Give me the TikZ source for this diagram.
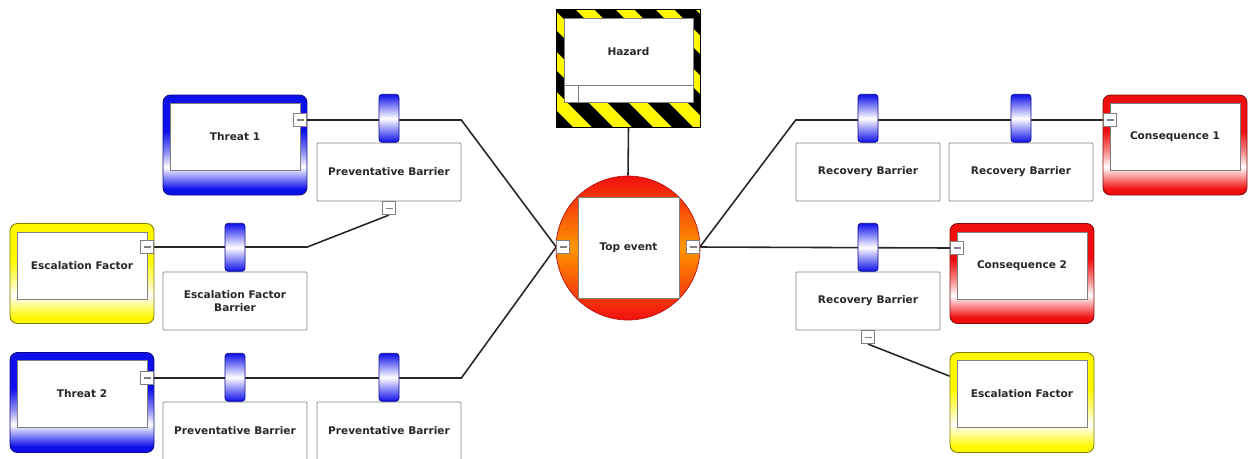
\documentclass[tikz,border=0pt]{standalone}
\usepackage{fontspec}
\setmainfont{DejaVu Sans}
\usetikzlibrary{positioning}

\definecolor{bowblue}{RGB}{15,15,235}
\definecolor{bowred}{RGB}{240,15,15}
\definecolor{bowyellow}{RGB}{255,248,0}
\definecolor{bowor}{RGB}{255,150,0}
\definecolor{bowtext}{RGB}{40,40,40}

\pgfdeclareverticalshading{blueframe}{100bp}{color(0bp)=(bowblue); color(28bp)=(bowblue); color(33bp)=(bowblue!55!white); color(39bp)=(white); color(47bp)=(bowblue!50!white); color(57bp)=(bowblue); color(100bp)=(bowblue)}
\pgfdeclareverticalshading{redframe}{100bp}{color(0bp)=(bowred); color(28bp)=(bowred); color(33bp)=(bowred!55!white); color(39bp)=(white); color(47bp)=(bowred!50!white); color(57bp)=(bowred); color(100bp)=(bowred)}
\pgfdeclareverticalshading{yellowframe}{100bp}{color(0bp)=(bowyellow); color(28bp)=(bowyellow); color(33bp)=(bowyellow!55!white); color(39bp)=(white); color(47bp)=(bowyellow!50!white); color(57bp)=(bowyellow); color(100bp)=(bowyellow)}

\pgfdeclarelayer{background}
\pgfsetlayers{background,main}

\begin{document}
\begin{tikzpicture}[x=0.02cm, y=-0.02cm,
    every node/.style={font=\fontsize{6}{7.2}\selectfont\bfseries, text=bowtext},
    frame/.style={rectangle, rounded corners=0.15cm, minimum width=2.88cm, minimum height=2cm, line width=0.5pt, shade},
    threat/.style={frame, draw=bowblue!55!black, shading=blueframe},
    conseq/.style={frame, draw=bowred!55!black, shading=redframe},
    escal/.style={frame, draw=bowyellow!50!black, shading=yellowframe},
    inbox/.style={rectangle, draw=gray, fill=white, minimum width=2.6cm, minimum height=1.34cm},
    barrier/.style={rectangle, draw=gray, fill=white, rounded corners=0.5pt, minimum width=2.88cm, minimum height=1.16cm, align=center},
    tab/.style={rectangle, rounded corners=0.06cm, draw=bowblue!60!black, top color=bowblue, bottom color=bowblue, middle color=white, minimum width=0.4cm, minimum height=0.96cm, inner sep=0pt},
    btn/.style={rectangle, draw=gray, fill=white, minimum size=0.26cm, inner sep=0pt,
      path picture={\draw[gray, line width=0.6pt] ([xshift=-0.07cm]path picture bounding box.center) -- ([xshift=0.07cm]path picture bounding box.center);}},
    link/.style={line width=0.9pt, black!85}]
  \clip (0,0) rectangle (1251,458);

  % Hazard with striped frame
  \node[rectangle, fill=bowyellow, minimum width=2.86cm, minimum height=2.34cm, inner sep=0pt] (hazf) at (628.5,68.5) {};
  \begin{scope}
    \clip (hazf.north west) rectangle (hazf.south east);
    \foreach \s in {395,435,...,675}
      \fill[black] (\s,10) -- ({\s+21},10) -- ({\s+138},127) -- ({\s+117},127) -- cycle;
  \end{scope}
  \draw[black, line width=0.8pt] (hazf.north west) rectangle (hazf.south east);
  \node[rectangle, draw=gray, fill=white, minimum width=2.58cm, minimum height=1.34cm] (hazard) at (628.5,51.5) {Hazard};
  \node[rectangle, draw=gray, fill=white, minimum width=2.58cm, minimum height=0.34cm, below=0pt of hazard] (hazbar) {};
  \draw[gray] ([xshift=0.3cm]hazbar.north west) -- ([xshift=0.3cm]hazbar.south west);

  % Top event
  \node[circle, draw=bowred!80!black, top color=bowred, bottom color=bowred, middle color=bowor, minimum size=2.88cm] (tec) at (628,248) {};
  \node[rectangle, draw=gray, fill=white, minimum size=2.02cm] (top) at (628.5,248) {Top event};
  \node[btn] (telbtn) at (563,247) {};
  \node[btn] (terbtn) at (693,247) {};

  % Threat 1
  \node[threat] (t1f) at (235,145) {};
  \node[inbox] (t1) at (235,136.5) {Threat 1};
  \node[btn] (t1btn) at (300,120) {};
  \node[barrier] (pb1) at (389,172) {Preventative Barrier};
  \node[tab, above=0pt of pb1] (pb1tab) {};
  \node[btn, below=0pt of pb1] (pb1btn) {};

  % Escalation factor on barrier
  \node[escal] (ef1f) at (82,273.5) {};
  \node[inbox] (ef1) at (82,265.5) {Escalation Factor};
  \node[btn] (ef1btn) at (147,247) {};
  \node[barrier] (efb) at (235,301) {Escalation Factor\\Barrier};
  \node[tab, above=0pt of efb] (efbtab) {};

  % Threat 2
  \node[threat] (t2f) at (82,402.5) {};
  \node[inbox] (t2) at (82,393.5) {Threat 2};
  \node[btn] (t2btn) at (147,378) {};
  \node[barrier] (pb2) at (235,431) {Preventative Barrier};
  \node[tab, above=0pt of pb2] (pb2tab) {};
  \node[barrier] (pb3) at (389,431) {Preventative Barrier};
  \node[tab, above=0pt of pb3] (pb3tab) {};

  % Consequence 1
  \node[barrier] (rb1) at (868,172) {Recovery Barrier};
  \node[tab, above=0pt of rb1] (rb1tab) {};
  \node[barrier] (rb2) at (1021,172) {Recovery Barrier};
  \node[tab, above=0pt of rb2] (rb2tab) {};
  \node[conseq] (c1f) at (1175,145) {};
  \node[inbox] (c1) at (1175,136.5) {Consequence 1};
  \node[btn] (c1btn) at (1110,120) {};

  % Consequence 2
  \node[barrier] (rb3) at (868,301) {Recovery Barrier};
  \node[tab, above=0pt of rb3] (rb3tab) {};
  \node[btn, below=0pt of rb3] (rb3btn) {};
  \node[conseq] (c2f) at (1022,273.5) {};
  \node[inbox] (c2) at (1022,265.5) {Consequence 2};
  \node[btn] (c2btn) at (957,248) {};
  \node[escal] (ef2f) at (1022,402.5) {};
  \node[inbox] (ef2) at (1022,393.5) {Escalation Factor};

  % connectors
  \begin{pgfonlayer}{background}
    \draw[link] (hazf.south) -- (tec.north);
    \draw[link] (t1btn.east) -- (t1btn -| pb1.east) -- (telbtn.west);
    \draw[link] (ef1btn.east) -- (ef1btn -| efb.east) -- (pb1btn.south);
    \draw[link] (t2btn.east) -- (t2btn -| pb3.east) -- (telbtn.west);
    \draw[link] (terbtn.east) -- (c1btn -| rb1.west) -- (c1btn.west);
    \draw[link] (terbtn.east) -- (c2btn.west);
    \draw[link] (rb3btn.south) -- (ef2f.160);
  \end{pgfonlayer}
\end{tikzpicture}
\end{document}
